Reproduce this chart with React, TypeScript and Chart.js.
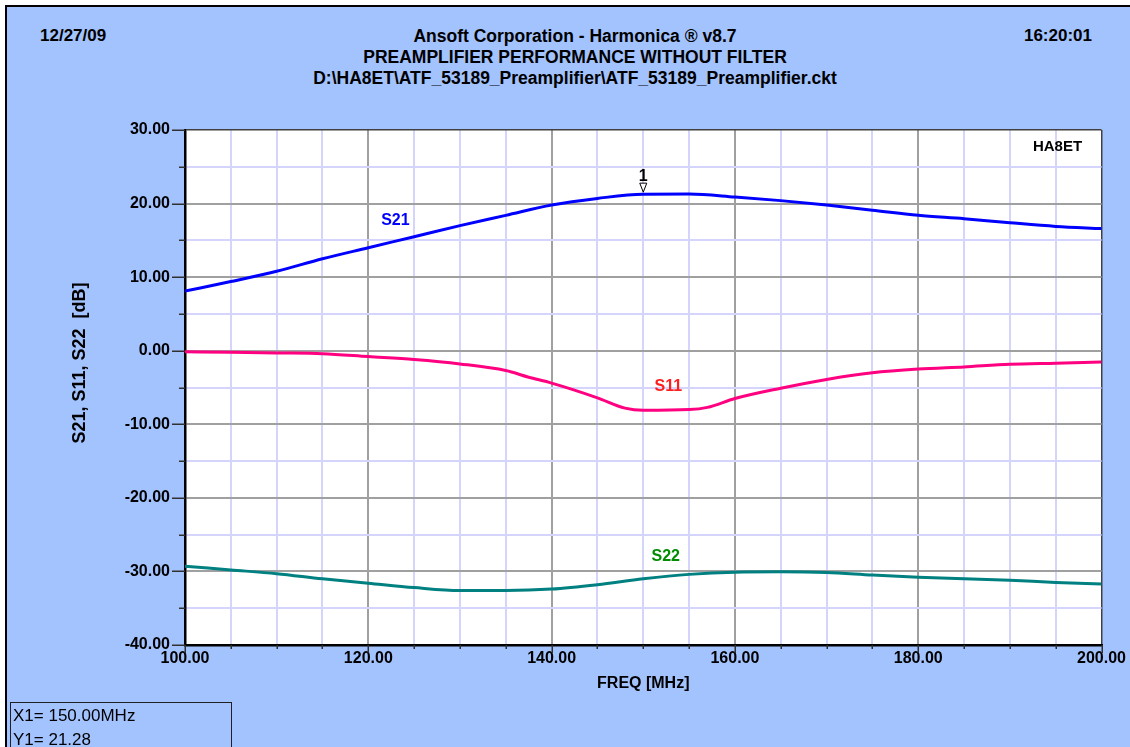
import React, { useEffect, useRef } from 'react';
import { Chart, registerables } from 'chart.js';

Chart.register(...registerables);

const FONT = '"Liberation Sans", Arial, Helvetica, sans-serif';

// ---- data ----
const freqs = [100, 105, 110, 115, 120, 125, 130, 135, 140, 145, 150, 155, 160, 165, 170, 175, 180, 185, 190, 195, 200];
const s21 = [8.1, 9.4, 10.8, 12.5, 14.0, 15.5, 17.0, 18.4, 19.8, 20.7, 21.28, 21.3, 20.9, 20.4, 19.8, 19.1, 18.4, 17.95, 17.4, 16.9, 16.6];
const s11Freqs = [100, 105, 110, 115, 120, 125, 130, 135, 137.5, 140, 145, 148, 150, 155, 157, 160, 165, 170, 175, 180, 185, 190, 195, 200];
const s11 = [-0.15, -0.2, -0.3, -0.4, -0.8, -1.2, -1.8, -2.7, -3.6, -4.4, -6.4, -7.8, -8.1, -8.0, -7.7, -6.5, -5.1, -3.9, -3.0, -2.5, -2.2, -1.85, -1.7, -1.55];
const s22 = [-29.3, -29.8, -30.3, -31.0, -31.6, -32.2, -32.6, -32.6, -32.4, -31.8, -31.0, -30.4, -30.1, -30.05, -30.15, -30.5, -30.8, -31.0, -31.2, -31.5, -31.7];

const xMin = 100, xMax = 200, xStep = 5, xMajor = 20;
const yMin = -40, yMax = 30, yStep = 5, yMajor = 10;

const headerLines = [
  'Ansoft Corporation - Harmonica \u00AE v8.7',
  'PREAMPLIFIER PERFORMANCE WITHOUT FILTER',
  'D:\\HA8ET\\ATF_53189_Preamplifier\\ATF_53189_Preamplifier.ckt',
];
const dateText = '12/27/09';
const timeText = '16:20:01';
const xTitle = 'FREQ [MHz]';
const yTitle = 'S21, S11, S22  [dB]';

const curveLabels = [
  { text: 'S21', x: 122.96, y: 17.67, color: '#0000ff' },
  { text: 'S11', x: 152.74, y: -4.85, color: '#ff1e1e' },
  { text: 'S22', x: 152.45, y: -28.0, color: '#008c00' },
  { text: 'HA8ET', x: 195.2, y: 27.77, color: '#000000' },
];
const marker = { label: '1', x: 150, y: 21.28 };
const markerReadout = ['X1= 150.00MHz', 'Y1= 21.28'];

const decorPlugin = {
  id: 'decor',
  afterDraw(chart: any) {
    const { ctx, chartArea } = chart;
    const xs = chart.scales.x;
    const ys = chart.scales.y;
    ctx.save();
    // outer tick marks
    ctx.strokeStyle = '#303030';
    ctx.lineWidth = 1.5;
    ys.ticks.forEach((t: any) => {
      const py = Math.round(ys.getPixelForValue(t.value)) + 0.25;
      const len = t.value % yMajor === 0 ? 13 : 6;
      ctx.beginPath();
      ctx.moveTo(chartArea.left - len, py);
      ctx.lineTo(chartArea.left, py);
      ctx.stroke();
    });
    xs.ticks.forEach((t: any) => {
      const px = Math.round(xs.getPixelForValue(t.value)) + 0.25;
      const len = t.value % xMajor === 0 ? 8 : 4;
      ctx.beginPath();
      ctx.moveTo(px, chartArea.bottom);
      ctx.lineTo(px, chartArea.bottom + len);
      ctx.stroke();
    });
    // curve labels
    ctx.textAlign = 'center';
    ctx.textBaseline = 'middle';
    curveLabels.forEach((l) => {
      ctx.font = 'bold ' + (l.text === 'HA8ET' ? 15 : 16) + 'px ' + FONT;
      ctx.fillStyle = l.color;
      ctx.fillText(l.text, xs.getPixelForValue(l.x), ys.getPixelForValue(l.y));
    });
    // marker
    const mx = xs.getPixelForValue(marker.x);
    const my = ys.getPixelForValue(marker.y);
    ctx.fillStyle = '#000';
    ctx.font = 'bold 16px ' + FONT;
    ctx.fillText(marker.label, mx, my - 18);
    ctx.beginPath();
    ctx.moveTo(mx - 3.5, my - 11);
    ctx.lineTo(mx + 3.5, my - 11);
    ctx.lineTo(mx, my - 2);
    ctx.closePath();
    ctx.fillStyle = '#fff';
    ctx.fill();
    ctx.strokeStyle = '#000';
    ctx.lineWidth = 1;
    ctx.stroke();
    // y title
    ctx.translate(80, 363);
    ctx.rotate(-Math.PI / 2);
    ctx.fillStyle = '#000';
    ctx.font = 'bold 18px ' + FONT;
    ctx.fillText(yTitle, 0, 0);
    ctx.restore();
  },
};

const plotBgPlugin = {
  id: 'plotBg',
  beforeDraw(chart: any) {
    const { ctx, chartArea } = chart;
    ctx.save();
    ctx.fillStyle = '#ffffff';
    ctx.fillRect(chartArea.left, chartArea.top, chartArea.right - chartArea.left, chartArea.bottom - chartArea.top);
    ctx.restore();
  },
};

function toPoints(xsArr: number[], ysArr: number[]) {
  return xsArr.map((x, i) => ({ x, y: ysArr[i] }));
}

export default function App() {
  const canvasRef = useRef<HTMLCanvasElement | null>(null);

  useEffect(() => {
    if (!canvasRef.current) return;
    const chart = new Chart(canvasRef.current, {
      type: 'line',
      data: {
        datasets: [
          { label: 'S21', data: toPoints(freqs, s21), borderColor: '#0000ff', borderWidth: 3, pointRadius: 0, cubicInterpolationMode: 'monotone' },
          { label: 'S11', data: toPoints(s11Freqs, s11), borderColor: '#ff0080', borderWidth: 3, pointRadius: 0, cubicInterpolationMode: 'monotone' },
          { label: 'S22', data: toPoints(freqs, s22), borderColor: '#008080', borderWidth: 3, pointRadius: 0, cubicInterpolationMode: 'monotone' },
        ],
      },
      options: {
        animation: false,
        responsive: true,
        maintainAspectRatio: false,
        events: [],
        layout: { padding: { top: 130, right: 26, bottom: 0, left: 0 } },
        plugins: { legend: { display: false }, tooltip: { enabled: false }, title: { display: false } },
        scales: {
          x: {
            type: 'linear',
            min: xMin,
            max: xMax,
            afterFit: (s: any) => { s.height = 102; },
            ticks: {
              stepSize: xStep,
              autoSkip: false,
              maxRotation: 0,
              minRotation: 0,
              padding: 4,
              color: '#000',
              font: { family: FONT, size: 16, weight: 'bold' },
              callback: (v: any) => (Number(v) % xMajor === 0 ? Number(v).toFixed(2) : ''),
            },
            grid: {
              drawTicks: false,
              color: (c: any) => {
                const v = c.tick ? c.tick.value : 0;
                if (v === xMax) return '#404040';
                return v % xMajor === 0 ? '#a0a0a0' : '#d4d4fc';
              },
              lineWidth: (c: any) => ((c.tick && c.tick.value === xMax) ? 1.5 : 2),
            },
            border: { color: '#000', width: 2.5 },
            title: {
              display: true,
              text: xTitle,
              color: '#000',
              font: { family: FONT, size: 16, weight: 'bold' },
              padding: { top: 0, bottom: 54 },
            },
          },
          y: {
            min: yMin,
            max: yMax,
            afterFit: (s: any) => { s.width = 185; },
            ticks: {
              stepSize: yStep,
              autoSkip: false,
              padding: 15,
              color: '#000',
              font: { family: FONT, size: 16, weight: 'bold' },
              callback: (v: any) => (Number(v) % yMajor === 0 ? Number(v).toFixed(2) : ''),
            },
            grid: {
              drawTicks: false,
              color: (c: any) => {
                const v = c.tick ? c.tick.value : 0;
                if (v === yMax) return '#404040';
                return v % yMajor === 0 ? '#a0a0a0' : '#d4d4fc';
              },
              lineWidth: (c: any) => ((c.tick && c.tick.value === yMax) ? 1.5 : 2),
            },
            border: { color: '#000', width: 2.5 },
          },
        },
      } as any,
      plugins: [plotBgPlugin, decorPlugin],
    });
    return () => chart.destroy();
  }, []);

  const textBase: React.CSSProperties = {
    position: 'fixed',
    fontFamily: FONT,
    fontWeight: 'bold',
    fontSize: 17.5,
    color: '#000',
    whiteSpace: 'nowrap',
    lineHeight: '20px',
  };

  return (
    <div>
      <div
        style={{
          position: 'fixed', left: 5, top: 5, right: 0, bottom: 0,
          background: 'rgb(163,195,255)',
          borderLeft: '2px solid #000', borderTop: '2px solid #000',
        }}
      />
      <div style={{ ...textBase, fontSize: 17, left: 40, top: 26 }}>{dateText}</div>
      <div style={{ ...textBase, fontSize: 17, right: 38, top: 26 }}>{timeText}</div>
      {headerLines.map((t, i) => (
        <div key={i} style={{ ...textBase, left: 575, top: 26 + i * 21, transform: 'translateX(-50%)' }}>{t}</div>
      ))}
      <div style={{ position: 'fixed', left: 0, top: 0, width: 1130, height: 747 }}>
        <canvas ref={canvasRef} />
      </div>
      <div
        style={{
          position: 'fixed', left: 10, top: 702, width: 222, height: 60,
          border: '1px solid #202020', boxSizing: 'border-box',
        }}
      />
      {markerReadout.map((t, i) => (
        <div key={i} style={{ ...textBase, fontWeight: 'normal', fontSize: 17, left: 13, top: 706 + i * 24 }}>{t}</div>
      ))}
    </div>
  );
}
